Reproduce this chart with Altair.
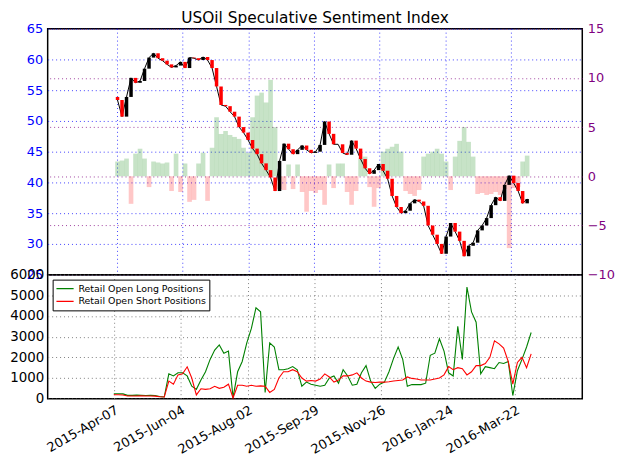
import altair as alt
import pandas as pd

dates = pd.date_range("2015-04-07", periods=92, freq="4D").strftime("%Y-%m-%d").tolist()

first_open = 53.9
price_close = [53.4, 50.7, 53.9, 57.0, 56.2, 56.5, 58.5, 60.3, 61.0, 60.2,
               59.8, 59.2, 58.7, 59.0, 59.6, 58.6, 60.3, 60.2, 59.9, 60.4,
               59.9, 58.6, 55.6, 52.6, 52.4, 51.5, 50.7, 49.0, 48.1, 46.9,
               45.5, 44.6, 43.1, 42.0, 40.8, 38.6, 43.5, 46.3, 45.4, 44.6,
               45.3, 46.0, 45.3, 44.8, 45.0, 46.1, 49.9, 47.9, 46.2, 46.2,
               44.8, 44.5, 46.8, 45.5, 43.8, 42.3, 41.4, 42.0, 43.0, 41.9,
               40.6, 37.8, 36.0, 35.0, 35.4, 36.6, 37.2, 36.9, 36.2, 33.0,
               31.5, 30.0, 28.4, 31.2, 33.4, 32.0, 30.5, 28.0, 29.7, 30.2,
               32.2, 33.0, 34.2, 36.3, 37.6, 37.0, 39.6, 41.1, 39.9, 38.6,
               36.6, 37.3]

ssi = [1.5, 1.6, 1.8, -2.8, 2.3, 2.8, 1.8, -1.1, 1.5, 1.4,
       1.3, 1.4, -1.5, 2.3, -1.6, 1.3, -2.6, -2.4, 1.3, 2.4,
       -2.5, 2.9, 6.0, 4.3, 4.6, 4.2, 4.0, 3.8, 2.9, 2.4,
       6.0, 8.2, 8.5, 7.5, 9.8, 5.0, -1.3, -1.4, 1.2, -1.3,
       1.2, -1.6, -3.6, -1.5, -1.7, -1.4, -2.9, 1.2, -1.2, 1.3,
       1.3, -1.6, -2.9, -1.5, 1.8, 2.0, -1.1, -3.1, -1.2, 2.5,
       2.8, 3.0, 3.3, 2.5, -1.5, -1.8, -2.0, -1.4, 2.0, 2.3,
       2.5, 2.8, 2.3, 1.5, -1.4, 2.0, 3.6, 5.0, 3.5, 2.0,
       -1.8, -1.7, -1.9, -1.8, -1.6, -1.9, -1.3, -7.3, -1.2, -1.1,
       1.5, 2.1]

long_pos = [240, 240, 230, 160, 160, 170, 160, 150, 160, 150,
            100, 80, 1200, 1100, 1250, 1250, 1100, 600, 450, 900,
            1300, 1900, 2350, 2600, 2200, 2300, 50, 1300, 1800, 2700,
            3400, 4400, 4200, 300, 2700, 2500, 1400, 1400, 1450, 1550,
            1400, 600, 800, 700, 650, 600, 650, 1000, 1100, 750,
            1400, 1100, 650, 700, 1250, 1600, 850, 500, 700, 800,
            1300, 1950, 2500, 1900, 600, 680, 680, 680, 750, 2100,
            2200, 2900, 2300, 1250, 1100, 3500, 1900, 5400, 4200, 3700,
            1200, 1550, 1500, 1450, 1750, 1700, 1800, 150, 1350, 1900,
            2500, 3200]

short_pos = [190, 190, 180, 130, 130, 130, 140, 130, 130, 120,
             90, 80, 850, 700, 1150, 1200, 1540, 1000, 180, 480,
             450, 480, 600, 500, 550, 700, 30, 650, 650, 600,
             650, 600, 620, 600, 300, 450, 1000, 1300, 1300, 1400,
             1300, 1000, 850, 880, 850, 950, 1200, 1050, 800, 900,
             1100, 1100, 1150, 1250, 1000, 850, 800, 780, 800, 800,
             820, 850, 880, 900, 1050, 980, 950, 900, 900, 900,
             950, 1000, 1150, 1550, 1400, 1500, 1450, 1150, 1300, 1600,
             1600, 1700, 2000, 2800, 2650, 2450, 1800, 700, 1750, 2000,
             1500, 2170]

series_names = ["Retail Open Long Positions", "Retail Open Short Positions"]
tick_dates = ["2015-04-07", "2015-06-04", "2015-08-02", "2015-09-29",
              "2015-11-26", "2016-01-24", "2016-03-22"]
price_ticks = [25, 30, 35, 40, 45, 50, 55, 60, 65]
ssi_ticks = [-10, -5, 0, 5, 10, 15]
pos_ticks = [0, 1000, 2000, 3000, 4000, 5000, 6000]

# ---- tables ----
price_open = [first_open] + price_close[:-1]
top_df = pd.DataFrame({"date": dates, "open": price_open,
                       "close": price_close, "ssi": ssi})
pos_df = pd.DataFrame({
    "date": dates + dates,
    "value": long_pos + short_pos,
    "series": [series_names[0]] * len(dates) + [series_names[1]] * len(dates),
})
tick_df = pd.DataFrame({"date": tick_dates})

tick_vals = [alt.DateTime(year=int(s[:4]), month=int(s[5:7]), date=int(s[8:]), utc=True)
             for s in tick_dates]
x_domain = [alt.DateTime(year=2015, month=2, date=8, hours=8, utc=True),
            alt.DateTime(year=2016, month=5, date=19, hours=14, utc=True)]
xscale = alt.Scale(type="utc", domain=x_domain)
dash = [1, 3]
W = 539

x_top = alt.X("date:T", scale=xscale, title=None, axis=None)

vgrid = alt.Chart(tick_df).mark_rule(color="#0000ff", strokeDash=dash,
                                     opacity=0.75, strokeWidth=1).encode(x=x_top)

bars = alt.Chart(top_df).mark_bar(size=4.7, opacity=0.22).encode(
    x=x_top,
    y=alt.Y("ssi:Q", scale=alt.Scale(domain=[-10, 15], nice=False, zero=False),
            axis=alt.Axis(orient="right", values=ssi_ticks, title=None,
                          labelColor="#800080", labelFontSize=13, ticks=False,
                          domain=False, grid=True, gridColor="#800080",
                          gridDash=dash, gridOpacity=0.75, labelPadding=5)),
    y2=alt.datum(0),
    color=alt.condition(alt.datum.ssi > 0, alt.value("#008000"), alt.value("#ff0000")),
)
bars_layer = alt.layer(vgrid, bars)


def price_y(field):
    return alt.Y(field, scale=alt.Scale(domain=[25, 65], nice=False, zero=False),
                 axis=alt.Axis(orient="left", values=price_ticks, title=None,
                               labelColor="#0000ff", labelFontSize=13, ticks=False,
                               domain=False, grid=True, gridColor="#0000ff",
                               gridDash=dash, gridOpacity=0.75, labelPadding=5,
                               minExtent=38, maxExtent=38))


price_line = alt.Chart(top_df).mark_line(color="#000000", strokeWidth=1).encode(
    x=x_top, y=price_y("close:Q"))

candles = alt.Chart(top_df).mark_rule(strokeWidth=3.5).encode(
    x=x_top,
    y=price_y("open:Q"),
    y2="close:Q",
    color=alt.condition(alt.datum.close < alt.datum.open,
                        alt.value("#ff0000"), alt.value("#000000")),
)

price_layer = alt.layer(price_line, candles)

top = alt.layer(bars_layer, price_layer).resolve_scale(y="independent").properties(
    width=W, height=248,
    title=alt.TitleParams("USOil Speculative Sentiment Index", fontSize=15.5,
                          fontWeight="normal", color="black", offset=-4,
                          anchor="middle"),
)

lines = alt.Chart(pos_df).mark_line(strokeWidth=1.1).encode(
    x=alt.X("date:T", scale=xscale, title=None,
            axis=alt.Axis(values=tick_vals, format="%Y-%b-%d", labelAngle=-30,
                          labelAlign="right", labelBaseline="top", labelFontSize=13,
                          labelColor="black", labelPadding=5, ticks=False,
                          domain=False, grid=True, gridColor="#808080",
                          gridDash=dash, labelOverlap=False, labelFlush=False,
                          labelBound=False)),
    y=alt.Y("value:Q", scale=alt.Scale(domain=[0, 6000], nice=False),
            axis=alt.Axis(values=pos_ticks, format="d", title=None, labelFontSize=13.5,
                          labelColor="black", ticks=False, domain=False, grid=True,
                          gridColor="#808080", gridDash=dash, minExtent=38,
                          maxExtent=38, labelPadding=4)),
    color=alt.Color("series:N",
                    scale=alt.Scale(domain=series_names, range=["#008000", "#ff0000"]),
                    legend=alt.Legend(title=None, orient="top-left", offset=5,
                                      strokeColor="black", fillColor="white",
                                      padding=3, symbolType="stroke", symbolSize=300,
                                      symbolStrokeWidth=1.2, labelFontSize=9.5,
                                      rowPadding=1, clipHeight=12, cornerRadius=0)),
).properties(width=W, height=125)

chart = alt.vconcat(top, lines, spacing=0, bounds="flush").resolve_scale(
    color="independent", x="independent", y="independent"
).resolve_legend(color="independent").properties(
    padding={"left": 0, "top": 0, "right": 0, "bottom": 0}
).configure(font="DejaVu Sans").configure_view(stroke="black", strokeWidth=1.5)

chart.save("out.html", embed_options={"renderer": "svg", "actions": False})
